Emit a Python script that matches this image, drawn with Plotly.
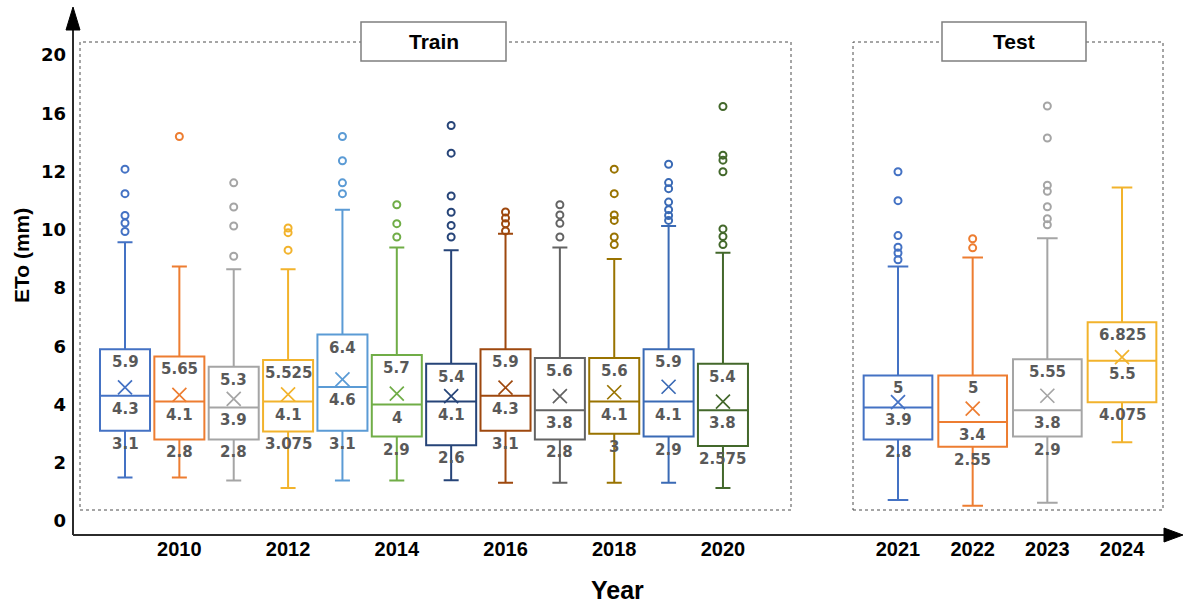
import plotly.graph_objects as go

# ---------------- data ----------------
years_train = [2009, 2010, 2011, 2012, 2013, 2014, 2015, 2016, 2017, 2018, 2019, 2020]
years_test = [2021, 2022, 2023, 2024]

q3_train = [5.9, 5.65, 5.3, 5.525, 6.4, 5.7, 5.4, 5.9, 5.6, 5.6, 5.9, 5.4]
median_train = [4.3, 4.1, 3.9, 4.1, 4.6, 4, 4.1, 4.3, 3.8, 4.1, 4.1, 3.8]
q1_train = [3.1, 2.8, 2.8, 3.075, 3.1, 2.9, 2.6, 3.1, 2.8, 3, 2.9, 2.575]
upper_train = [9.57, 8.74, 8.64, 8.64, 10.69, 9.39, 9.3, 9.86, 9.39, 9.0, 10.13, 9.21]
lower_train = [1.49, 1.49, 1.39, 1.13, 1.39, 1.39, 1.4, 1.31, 1.31, 1.31, 1.31, 1.13]
mean_train = [4.59, 4.33, 4.19, 4.35, 4.86, 4.37, 4.29, 4.58, 4.29, 4.42, 4.61, 4.10]
outliers_train = [
    [12.08, 11.24, 10.49, 10.23, 9.94],
    [13.2],
    [11.61, 10.78, 10.13, 9.09],
    [10.06, 9.9, 9.3],
    [13.2, 12.37, 11.61, 11.24],
    [10.86, 10.21, 9.75],
    [13.58, 12.63, 11.16, 10.6, 10.15, 9.75],
    [10.61, 10.4, 10.21, 9.96],
    [10.86, 10.51, 10.22, 9.75],
    [12.08, 11.24, 10.51, 10.32, 9.75, 9.49],
    [12.25, 11.62, 11.41, 10.95, 10.69, 10.49, 10.32],
    [14.23, 12.56, 12.39, 11.99, 10.03, 9.77, 9.49],
]

q3_test = [5, 5, 5.55, 6.825]
median_test = [3.9, 3.4, 3.8, 5.5]
q1_test = [2.8, 2.55, 2.9, 4.075]
upper_test = [8.74, 9.05, 9.71, 11.45]
lower_test = [0.72, 0.52, 0.63, 2.7]
mean_test = [4.08, 3.86, 4.30, 5.63]
outliers_test = [
    [11.99, 11.0, 9.8, 9.4, 9.2, 8.97],
    [9.69, 9.38],
    [14.25, 13.15, 11.53, 11.32, 10.79, 10.38, 10.17],
    [],
]

y_tickvals = [0, 2, 4, 6, 8, 10, 12, 14, 16]
y_ticktext = ["0", "2", "4", "6", "8", "10", "12", "16", "20"]
x_ticks_train = [2010, 2012, 2014, 2016, 2018, 2020]
x_ticks_test = [2021, 2022, 2023, 2024]

# ---------------- style ----------------
colors_train = ['#4472C4', '#ED7D31', '#A5A5A5', '#F2B32C', '#5B9BD5', '#70AD47',
                '#264478', '#9E480E', '#636363', '#997300', '#3A6AB5', '#43682B']
colors_test = ['#4472C4', '#ED7D31', '#A5A5A5', '#F2B32C']

W, H = 1189, 607
L, R, T, B = 73, 1165, 30, 535


def pxx(px):
    return (px - L) / (R - L)


def pyy(py):
    return (B - py) / (B - T)


tr_c0, tr_step = 125.0, 54.36
tr_left, tr_right = 73, 791
te_c0, te_step = 898.0, 74.67
te_left, te_right = 853, 1163

x_range_train = [years_train[0] - (tr_c0 - tr_left) / tr_step,
                 years_train[-1] + (tr_right - (tr_c0 + tr_step * 11)) / tr_step]
x_range_test = [years_test[0] - (te_c0 - te_left) / te_step,
                years_test[-1] + (te_right - (te_c0 + te_step * 3)) / te_step]

y_px_per_unit = (521 - 55) / 16.0
y_range = [-(B - 521) / y_px_per_unit, (521 - T) / y_px_per_unit]

fig = go.Figure()

label_font = dict(family="DejaVu Sans", size=15, color="#595959")
annotations = []


def add_panel(years, q1, med, q3, lo, hi, means, outs, colors, xa):
    for i, yr in enumerate(years):
        fig.add_trace(go.Box(
            x=[yr], q1=[q1[i]], median=[med[i]], q3=[q3[i]],
            lowerfence=[lo[i]], upperfence=[hi[i]],
            width=0.92, whiskerwidth=0.3,
            line=dict(color=colors[i], width=2),
            fillcolor='rgba(0,0,0,0)', boxpoints=False,
            xaxis=xa, yaxis='y', showlegend=False, hoverinfo='skip'))
        if outs[i]:
            fig.add_trace(go.Scatter(
                x=[yr] * len(outs[i]), y=outs[i], mode='markers',
                marker=dict(symbol='circle-open', size=7, color=colors[i],
                            line=dict(width=2, color=colors[i])),
                xaxis=xa, yaxis='y', showlegend=False, hoverinfo='skip'))
        for val in (q3[i], med[i], q1[i]):
            annotations.append(dict(
                x=yr, y=val, xref=xa, yref='y', text=f"<b>{val:g}</b>",
                showarrow=False, yshift=-13, font=label_font,
                xanchor='center', yanchor='middle'))
    fig.add_trace(go.Scatter(
        x=years, y=means, mode='markers',
        marker=dict(symbol='x-thin-open', size=14, color=colors,
                    line=dict(width=1.7, color=colors)),
        xaxis=xa, yaxis='y', showlegend=False, hoverinfo='skip'))


add_panel(years_train, q1_train, median_train, q3_train, lower_train, upper_train,
          mean_train, outliers_train, colors_train, 'x')
add_panel(years_test, q1_test, median_test, q3_test, lower_test, upper_test,
          mean_test, outliers_test, colors_test, 'x2')

axis_line = '#2b2b2b'
shapes = []
for x0, x1 in ((80, 791), (853, 1163)):
    shapes.append(dict(type='rect', xref='paper', yref='paper',
                       x0=pxx(x0), x1=pxx(x1), y0=pyy(510), y1=pyy(42),
                       line=dict(color='#4d4d4d', width=1, dash='dot'),
                       fillcolor='rgba(0,0,0,0)', layer='below'))
for x0, x1 in ((361, 506), (942, 1086)):
    shapes.append(dict(type='rect', xref='paper', yref='paper',
                       x0=pxx(x0), x1=pxx(x1), y0=pyy(61), y1=pyy(22),
                       line=dict(color='#7f7f7f', width=1.5),
                       fillcolor='white', layer='above'))
shapes.append(dict(type='line', xref='paper', yref='paper',
                   x0=pxx(73), x1=pxx(73), y0=pyy(535), y1=pyy(28),
                   line=dict(color=axis_line, width=2)))
shapes.append(dict(type='path', xref='paper', yref='paper',
                   path=f"M {pxx(66)} {pyy(30)} L {pxx(80)} {pyy(30)} L {pxx(73)} {pyy(7)} Z",
                   fillcolor='black', line=dict(color='black', width=1)))
shapes.append(dict(type='line', xref='paper', yref='paper',
                   x0=pxx(73), x1=pxx(1166), y0=pyy(535), y1=pyy(535),
                   line=dict(color=axis_line, width=2)))
shapes.append(dict(type='path', xref='paper', yref='paper',
                   path=f"M {pxx(1164)} {pyy(528)} L {pxx(1164)} {pyy(542)} L {pxx(1183)} {pyy(535)} Z",
                   fillcolor='black', line=dict(color='black', width=1)))

title_font = dict(family="Liberation Sans, Arial, sans-serif", size=21, color='black')
annotations += [
    dict(x=pxx(433.5), y=pyy(41.5), xref='paper', yref='paper', text='<b>Train</b>',
         showarrow=False, font=title_font, xanchor='center', yanchor='middle'),
    dict(x=pxx(1014), y=pyy(41.5), xref='paper', yref='paper', text='<b>Test</b>',
         showarrow=False, font=title_font, xanchor='center', yanchor='middle'),
    dict(x=pxx(22), y=pyy(256), xref='paper', yref='paper', text='<b>ETo (mm)</b>',
         showarrow=False, textangle=-90,
         font=dict(family="Liberation Sans, Arial, sans-serif", size=21, color='black'),
         xanchor='center', yanchor='middle'),
    dict(x=pxx(617), y=pyy(590), xref='paper', yref='paper', text='<b>Year</b>',
         showarrow=False,
         font=dict(family="Liberation Sans, Arial, sans-serif", size=25, color='black'),
         xanchor='center', yanchor='middle'),
]

xtick_font = dict(family="Liberation Sans Narrow, Arial Narrow, Liberation Sans, sans-serif",
                  size=20, color='black')

fig.update_layout(
    width=W, height=H,
    margin=dict(l=L, r=W - R, t=T, b=H - B),
    paper_bgcolor='white', plot_bgcolor='white',
    boxmode='overlay',
    shapes=shapes, annotations=annotations,
    xaxis=dict(domain=[pxx(tr_left), pxx(tr_right)], range=x_range_train, anchor='y',
               tickvals=x_ticks_train, ticktext=[f"<b>{v}</b>" for v in x_ticks_train],
               tickfont=xtick_font, showgrid=False, zeroline=False, showline=False,
               ticks=''),
    xaxis2=dict(domain=[pxx(te_left), pxx(te_right)], range=x_range_test, anchor='y',
                tickvals=x_ticks_test, ticktext=[f"<b>{v}</b>" for v in x_ticks_test],
                tickfont=xtick_font, showgrid=False, zeroline=False, showline=False,
                ticks=''),
    yaxis=dict(domain=[0, 1], range=y_range, anchor='x',
               tickvals=y_tickvals, ticktext=[f"<b>{t}</b>" for t in y_ticktext],
               tickfont=dict(family="DejaVu Sans", size=18, color='black'),
               ticklabelstandoff=6,
               showgrid=False, zeroline=False, showline=False, ticks=''),
)

fig.write_html("out.html")
